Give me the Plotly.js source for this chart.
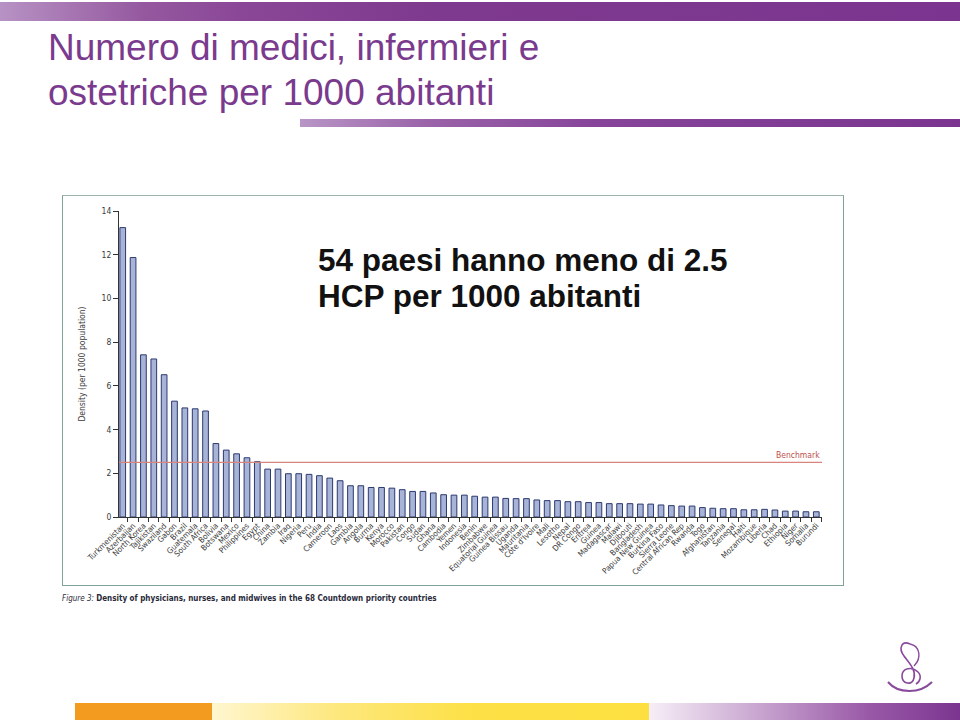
<!DOCTYPE html>
<html>
<head>
<meta charset="utf-8">
<script src="https://cdn.plot.ly/plotly-3.0.1.min.js"></script>
<style>
  html, body { margin:0; padding:0; background:#ffffff; }
  #wrap { position:relative; width:960px; height:720px; overflow:hidden; background:#ffffff; }
  .deco { position:absolute; }
  #chart { position:absolute; left:0; top:0; width:960px; height:720px; }
</style>
</head>
<body>
<div id="wrap">
  <div class="deco" style="left:0;top:2px;width:960px;height:19px;background:linear-gradient(to right,#b792c4 0%,#95589f 15%,#8a4797 25%,#7e3a8e 45%,#7b3590 100%);"></div>
  <div class="deco" style="left:300px;top:119px;width:660px;height:8px;background:linear-gradient(to right,#b895c6 0%,#9a62a8 20%,#86449a 45%,#7b3590 100%);"></div>
  <div class="deco" style="left:62px;top:195px;width:780px;height:389px;border:1px solid #7fa39a;border-top-color:#9db2ad;"></div>
  <div class="deco" style="left:75px;top:703px;width:137px;height:17px;background:#f29b1f;"></div>
  <div class="deco" style="left:212px;top:703px;width:437px;height:17px;background:linear-gradient(to right,#fff6cf 0%,#fde77a 30%,#fde045 60%,#fde040 100%);"></div>
  <div class="deco" style="left:649px;top:703px;width:311px;height:17px;background:linear-gradient(to right,#f6eef7 0%,#c9a6d0 35%,#9a5aa8 70%,#7b3590 100%);"></div>
  <svg class="deco" style="left:880px;top:636px;" width="60" height="60" viewBox="0 0 60 60">
    <path d="M30 8 C22 4 18 12 24 20 C30 28 36 34 34 42 C32 50 22 48 22 40 C22 32 32 30 38 36 C42 40 40 46 36 48" fill="none" stroke="#8a4a9c" stroke-width="1.6"/>
    <path d="M30 8 C40 10 42 22 34 30" fill="none" stroke="#8a4a9c" stroke-width="1.4"/>
    <path d="M8 46 C18 58 40 58 52 46" fill="none" stroke="#8a4a9c" stroke-width="2"/>
  </svg>
  <div id="chart"></div>
</div>
<script>
const countries = ["Turkmenistan","Azerbaijan","North Korea","Tajikistan","Swaziland","Gabon","Brazil","Guatemala","South Africa","Bolivia","Botswana","Mexico","Philippines","Egypt","China","Zambia","Iraq","Nigeria","Peru","India","Cameroon","Laos","Gambia","Angola","Burma","Kenya","Morocco","Pakistan","Congo","Sudan","Ghana","Cambodia","Yemen","Indonesia","Benin","Zimbabwe","Equatorial Guinea","Guinea Bissau","Uganda","Mauritania","Côte d'Ivoire","Mali","Lesotho","Nepal","DR Congo","Eritrea","Guinea","Madagascar","Malawi","Djibouti","Bangladesh","Papua New Guinea","Burkina Faso","Sierra Leone","Central African Rep","Rwanda","Togo","Afghanistan","Tanzania","Senegal","Haiti","Mozambique","Liberia","Chad","Ethiopia","Niger","Somalia","Burundi"];
const density = [13.24,11.87,7.42,7.23,6.51,5.30,4.99,4.95,4.85,3.36,3.06,2.89,2.71,2.53,2.19,2.19,1.98,1.98,1.95,1.89,1.78,1.66,1.43,1.43,1.35,1.35,1.32,1.25,1.17,1.17,1.10,1.02,1.00,1.00,0.95,0.91,0.91,0.85,0.84,0.84,0.78,0.75,0.75,0.70,0.70,0.66,0.66,0.61,0.61,0.61,0.59,0.59,0.55,0.52,0.50,0.50,0.43,0.40,0.38,0.38,0.33,0.33,0.35,0.32,0.27,0.27,0.24,0.24];
const benchmark = 2.5;
const yTickVals = [0,2,4,6,8,10,12,14];

const titleLine1 = "Numero di medici, infermieri e";
const titleLine2 = "ostetriche per 1000 abitanti";
const noteLine1 = "54 paesi hanno meno di 2.5";
const noteLine2 = "HCP per 1000 abitanti";
const caption = "<i>Figure 3:</i> <b>Density of physicians, nurses, and midwives in the 68 Countdown priority countries</b>";

const W = 960, H = 720;
const mL = 119, mR = 138, mT = 211, mB = 203;
const pw = W - mL - mR, ph = H - mT - mB;
const px = x => (x - mL) / pw;
const py = y => (H - mB - y) / ph;

const smallFont = "'DejaVu Sans Condensed', 'Liberation Sans Narrow', 'Liberation Sans', Arial, sans-serif";
const purple = "#7a3a8e";

const trace = {
  type: "bar",
  x: countries,
  y: density,
  width: 0.55,
  marker: { color: "#a8b3d8", line: { color: "#2c3a6e", width: 1 } },
  hoverinfo: "x+y"
};

const layout = {
  width: W, height: H,
  margin: { l: mL, r: mR, t: mT, b: mB, pad: 0 },
  paper_bgcolor: "rgba(0,0,0,0)",
  plot_bgcolor: "rgba(0,0,0,0)",
  showlegend: false,
  xaxis: {
    type: "category",
    range: [-0.36, 67.55],
    tickmode: "linear", tick0: 0, dtick: 1,
    showline: true, linecolor: "#333333", linewidth: 1,
    ticks: "outside", ticklen: 4, tickcolor: "#333333", tickwidth: 1,
    tickson: "boundaries",
    tickangle: -45,
    tickfont: { family: smallFont, size: 8, color: "#3a3a3a" },
    showgrid: false, zeroline: false, automargin: false, fixedrange: true
  },
  yaxis: {
    range: [0, 14],
    tickvals: yTickVals,
    showline: true, linecolor: "#333333", linewidth: 1,
    ticks: "outside", ticklen: 5, tickcolor: "#333333",
    tickfont: { family: smallFont, size: 8.5, color: "#3a3a3a" },
    showgrid: false, zeroline: false, automargin: false, fixedrange: true,
    title: { text: "Density (per 1000 population)", font: { family: smallFont, size: 8.5, color: "#3a3a3a" }, standoff: 14 }
  },
  shapes: [
    { type: "line", xref: "paper", yref: "y", x0: 0, x1: 1, y0: benchmark, y1: benchmark,
      line: { color: "#d9847d", width: 1.3 } }
  ],
  annotations: [
    { text: "Benchmark", xref: "paper", yref: "y", x: 1, y: benchmark, xanchor: "right", yanchor: "bottom",
      showarrow: false, font: { family: smallFont, size: 8.5, color: "#c0504d" } },
    { text: titleLine1, xref: "paper", yref: "paper", x: px(46), y: py(70), xanchor: "left", yanchor: "bottom",
      showarrow: false, font: { family: "'Liberation Sans', Arial, sans-serif", size: 37, color: purple } },
    { text: titleLine2, xref: "paper", yref: "paper", x: px(46), y: py(115), xanchor: "left", yanchor: "bottom",
      showarrow: false, font: { family: "'Liberation Sans', Arial, sans-serif", size: 37, color: purple } },
    { text: "<b>" + noteLine1 + "</b>", xref: "paper", yref: "paper", x: px(316), y: py(280), xanchor: "left", yanchor: "bottom",
      showarrow: false, font: { family: "'Liberation Sans', Arial, sans-serif", size: 31.5, color: "#111111" } },
    { text: "<b>" + noteLine2 + "</b>", xref: "paper", yref: "paper", x: px(316), y: py(316), xanchor: "left", yanchor: "bottom",
      showarrow: false, font: { family: "'Liberation Sans', Arial, sans-serif", size: 31.5, color: "#111111" } },
    { text: caption, xref: "paper", yref: "paper", x: px(60), y: py(605), xanchor: "left", yanchor: "bottom",
      showarrow: false, font: { family: smallFont, size: 8, color: "#2a2a3a" } }
  ]
};

Plotly.newPlot("chart", [trace], layout, { displayModeBar: false, staticPlot: true });
</script>
</body>
</html>
